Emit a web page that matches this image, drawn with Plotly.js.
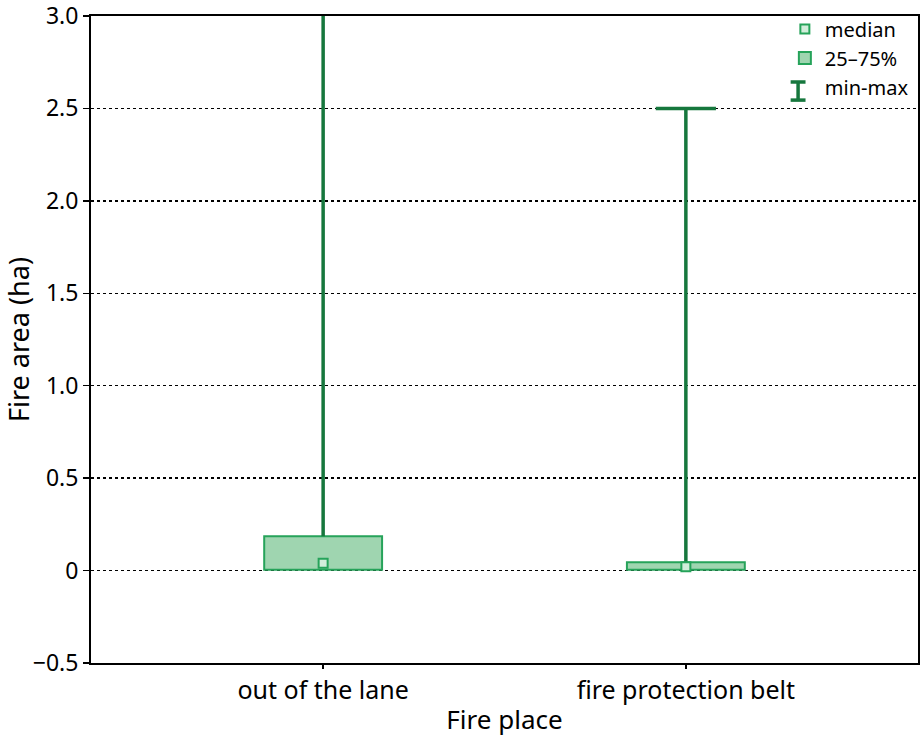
<!DOCTYPE html>
<html>
<head>
<meta charset="utf-8">
<script src="https://cdn.plot.ly/plotly-3.0.1.min.js"></script>
<style>html,body{margin:0;padding:0;background:#fff;}#chart{width:920px;height:741px;}</style>
</head>
<body>
<div id="chart"></div>
<script>
const categories = ["out of the lane", "fire protection belt"];
const q1Values = [0.005, 0.005];
const q3Values = [0.185, 0.045];
const medianValues = [0.04, 0.02];
const minValues = [0, 0];
const maxValues = [3.1, 2.5];
const yTickVals = [-0.5, 0, 0.5, 1.0, 1.5, 2.0, 2.5, 3.0];
const yTickText = ["\u22120.5", "0", "0.5", "1.0", "1.5", "2.0", "2.5", "3.0"];

const dark = "#16773d";
const mid = "#26a35a";
const fill = "#9fd5b0";
const font = "Noto Sans, sans-serif";

const traces = [
  {
    // whisker: from the top of the box (whisker below is hidden by the box) to the max
    type: "scatter", mode: "markers", name: "min-max",
    x: categories, y: q3Values,
    marker: {size: 1, color: "rgba(0,0,0,0)"},
    error_y: {type: "data", symmetric: false,
      array: maxValues.map((v, i) => v - q3Values[i]),
      arrayminus: minValues.map(() => 0),
      color: dark, thickness: 3.5, width: 0},
    cliponaxis: true, showlegend: true, hoverinfo: "skip"
  },
  {
    // caps at the maxima
    type: "scatter", mode: "markers", name: "max",
    x: categories, y: maxValues,
    marker: {symbol: "line-ew", size: 43, line: {color: dark, width: 3.5}},
    cliponaxis: true, showlegend: false, hoverinfo: "skip"
  },
  {
    type: "bar", name: "25\u201375%",
    x: categories, base: q1Values,
    y: q3Values.map((v, i) => v - q1Values[i]),
    width: 0.325,
    marker: {color: fill, line: {color: mid, width: 2}}
  },
  {
    type: "scatter", mode: "markers", name: "median",
    x: categories, y: medianValues,
    marker: {symbol: "square", size: 9, color: "#d2eedb", line: {color: mid, width: 2}}
  }
];

// "I" glyph for the min-max legend entry (legend decoration only)
const legendGlyph = {x0: 0.846, x1: 0.864, xc: 0.855, yTop: 0.898, yBot: 0.870};
const shapes = [
  {type: "line", xref: "paper", yref: "paper", x0: legendGlyph.xc, x1: legendGlyph.xc, y0: legendGlyph.yBot, y1: legendGlyph.yTop, line: {color: dark, width: 3.5}},
  {type: "line", xref: "paper", yref: "paper", x0: legendGlyph.x0, x1: legendGlyph.x1, y0: legendGlyph.yTop, y1: legendGlyph.yTop, line: {color: dark, width: 3.5}},
  {type: "line", xref: "paper", yref: "paper", x0: legendGlyph.x0, x1: legendGlyph.x1, y0: legendGlyph.yBot, y1: legendGlyph.yBot, line: {color: dark, width: 3.5}}
];

const layout = {
  width: 920, height: 741,
  margin: {l: 91, r: 2, t: 16, b: 78},
  paper_bgcolor: "#fff", plot_bgcolor: "#fff",
  font: {family: font, color: "#000", size: 24},
  showlegend: true,
  shapes: shapes,
  legend: {x: 0.995, y: 1.01, xanchor: "right", yanchor: "top",
    bgcolor: "rgba(255,255,255,0)", font: {size: 20, family: font},
    traceorder: "reversed", itemwidth: 30, tracegroupgap: 0},
  xaxis: {
    type: "category", range: [-0.64, 1.64],
    showline: true, linecolor: "#000", linewidth: 2, mirror: true,
    ticks: "outside", ticklen: 4, tickwidth: 1.5, tickcolor: "#000",
    showgrid: false, zeroline: false,
    tickfont: {size: 25, family: font},
    title: {text: "Fire place", font: {size: 26, family: font}, standoff: 6}
  },
  yaxis: {
    range: [-0.5, 3.0], tickvals: yTickVals, ticktext: yTickText,
    ticklabeloverflow: "allow",
    showline: true, linecolor: "#000", linewidth: 2, mirror: true,
    ticks: "outside", ticklen: 6, tickwidth: 1.5, tickcolor: "#000",
    showgrid: true, gridcolor: "#000", gridwidth: 1.5, griddash: "dot",
    zeroline: false,
    tickfont: {size: 23, family: font},
    title: {text: "Fire area (ha)", font: {size: 27, family: font}, standoff: 3}
  }
};

Plotly.newPlot("chart", traces, layout, {displayModeBar: false, staticPlot: true});
</script>
</body>
</html>
